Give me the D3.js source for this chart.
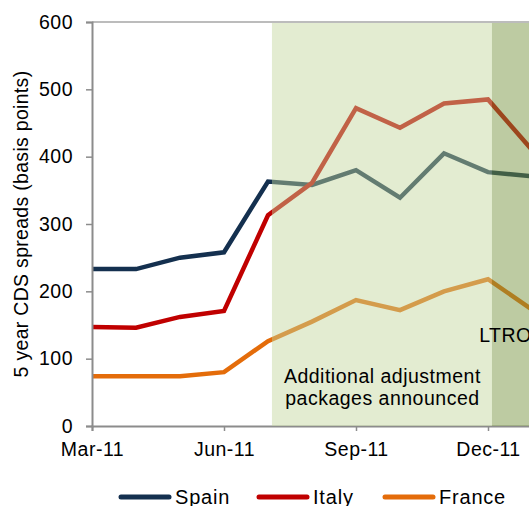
<!DOCTYPE html>
<html>
<head>
<meta charset="utf-8">
<script src="https://cdn.jsdelivr.net/npm/d3@7/dist/d3.min.js"></script>
<style>
  html, body { margin: 0; padding: 0; background: #ffffff; }
  svg { display: block; }
  text { font-family: "Liberation Sans", Arial, sans-serif; fill: #000; }
</style>
</head>
<body>
<svg id="chart" width="529" height="506"></svg>
<script>
// ---- data ----
const months = ["Mar-11","Apr-11","May-11","Jun-11","Jul-11","Aug-11","Sep-11","Oct-11","Nov-11","Dec-11","Jan-12"];
const spain  = [233, 233, 250, 258, 363, 358, 380, 339, 405, 377, 371];
const italy  = [147, 146, 162, 171, 313, 361, 472, 443, 479, 485, 410];
const france = [74, 74, 74, 80, 126, 155, 187, 172, 200, 218, 173];
const xTickLabels = ["Mar-11","Jun-11","Sep-11","Dec-11"];
const xTickIndex  = [0, 3, 6, 9];
const yTicks = [0, 100, 200, 300, 400, 500, 600];
const seriesNames = ["Spain","Italy","France"];
const seriesColors = ["#14304f","#c00000","#e46c0a"];
// shaded periods, in month-index units
const periods = [
  { from: 4.09, to: 9.09, label: ["Additional adjustment","packages announced"], fill: "#c2d69b", opacity: 0.46 },
  { from: 9.09, to: 14,   label: ["LTRO"], fill: "#76923c", opacity: 0.48 }
];

const svg = d3.select("#chart");
const x = d3.scaleLinear().domain([0, 12]).range([92, 92 + 44 * 12]);
const y = d3.scaleLinear().domain([0, 600]).range([426, 22]);
const FONT = 19.5;
const LS = "0.5px";

// top border
svg.append("line").attr("x1", x(0)).attr("x2", 600).attr("y1", y(600)).attr("y2", y(600))
  .attr("stroke", "#a6a6a6").attr("stroke-width", 1.5);

// lines
const allSeries = [spain, italy, france];
const line = d3.line().x((d, i) => x(i)).y(d => y(d));
allSeries.forEach((s, k) => {
  svg.append("path").datum(s).attr("d", line)
    .attr("fill", "none").attr("stroke", seriesColors[k])
    .attr("stroke-width", 4.5).attr("stroke-linejoin", "miter");
});

// axes
const yAxis = d3.axisLeft(y).tickValues(yTicks).tickSize(6).tickPadding(13).tickFormat(d3.format("d"));
const gy = svg.append("g").attr("transform", `translate(${x(0)},0)`).call(yAxis);
gy.select(".domain").attr("stroke", "#8c8c8c").attr("stroke-width", 2);
gy.selectAll(".tick line").attr("stroke", "#8c8c8c").attr("stroke-width", 1.5);
gy.selectAll(".tick text").attr("font-size", FONT).attr("letter-spacing", LS)
  .attr("font-family", "Liberation Sans, Arial, sans-serif").attr("fill", "#000");

const xAxis = d3.axisBottom(x).tickValues(xTickIndex).tickSize(5).tickPadding(11)
  .tickFormat((d, i) => xTickLabels[i]);
const gx = svg.append("g").attr("transform", `translate(0,${y(0)})`).call(xAxis);
gx.select(".domain").attr("stroke", "#8c8c8c").attr("stroke-width", 2);
gx.selectAll(".tick line").attr("stroke", "#8c8c8c").attr("stroke-width", 1.5);
gx.selectAll(".tick text").attr("font-size", FONT).attr("letter-spacing", LS)
  .attr("font-family", "Liberation Sans, Arial, sans-serif").attr("fill", "#000");

// shaded periods (semi-transparent, over the lines)
periods.forEach(p => {
  svg.append("rect")
    .attr("x", x(p.from)).attr("y", y(600) + 1)
    .attr("width", x(p.to) - x(p.from)).attr("height", y(0) - y(600) - 1)
    .attr("fill", p.fill).attr("fill-opacity", p.opacity);
});

// period labels
const lab1 = svg.append("text").attr("text-anchor", "middle")
  .attr("font-size", FONT).attr("letter-spacing", LS);
lab1.append("tspan").attr("x", x(6.6)).attr("y", 383).text(periods[0].label[0]);
lab1.append("tspan").attr("x", x(6.6)).attr("y", 405).text(periods[0].label[1]);
svg.append("text").attr("x", x(8.8)).attr("y", 342)
  .attr("font-size", FONT).attr("letter-spacing", LS).text(periods[1].label[0]);

// y axis title
svg.append("text")
  .attr("transform", `translate(28,${(y(0) + y(600)) / 2}) rotate(-90)`)
  .attr("text-anchor", "middle").attr("font-size", FONT).attr("letter-spacing", "0.3px")
  .text("5 year CDS spreads (basis points)");

// legend
const legX = [121, 259, 385];
seriesNames.forEach((n, k) => {
  const g = svg.append("g").attr("transform", `translate(${legX[k]},497)`);
  g.append("line").attr("x1", 0).attr("x2", 48).attr("y1", 0).attr("y2", 0)
    .attr("stroke", seriesColors[k]).attr("stroke-width", 5).attr("stroke-linecap", "round");
  g.append("text").attr("x", 54).attr("y", 7).attr("font-size", 20).attr("letter-spacing", "0.8px").text(n);
});
</script>
</body>
</html>
